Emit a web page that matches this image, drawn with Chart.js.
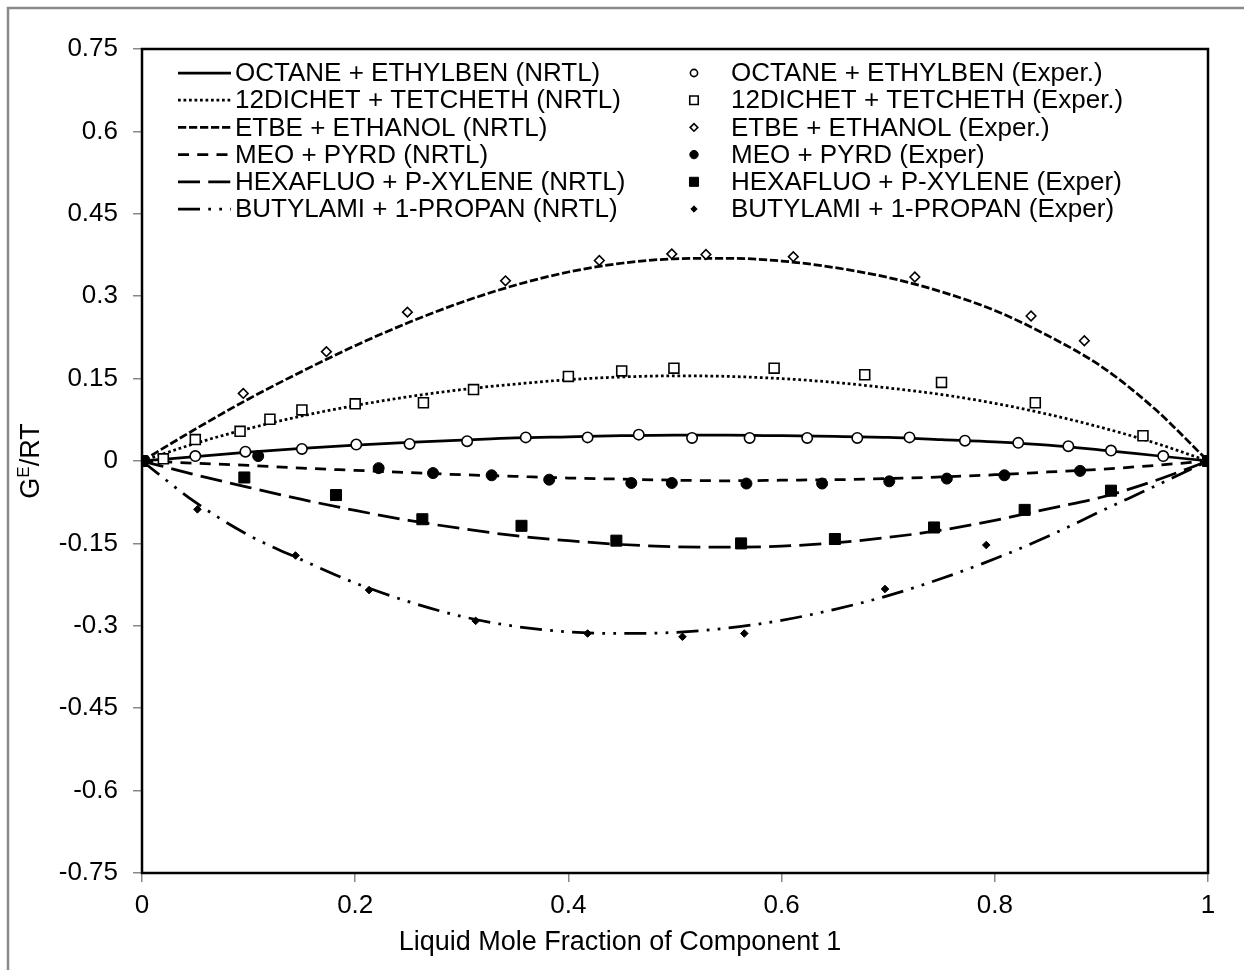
<!DOCTYPE html>
<html lang="en">
<head>
<meta charset="UTF-8">
<title>Excess Gibbs Energy - NRTL vs Experiment</title>
<script src="https://cdn.jsdelivr.net/npm/chart.js"></script>
<style>
    body { margin: 0; background: #fff; }
    canvas { display: block; }
</style>
</head>
<body>
<canvas id="geChart" width="1244" height="970"></canvas>

<script>
    // composition grid for the NRTL curves
    const xModel = [0, 0.05, 0.1, 0.15, 0.2, 0.25, 0.3, 0.35, 0.4, 0.45, 0.5,
                    0.55, 0.6, 0.65, 0.7, 0.75, 0.8, 0.85, 0.9, 0.95, 1];

    // NRTL GE/RT along xModel
    const octaneNrtl = [0, 0.008, 0.016, 0.023, 0.029, 0.034, 0.038, 0.042, 0.044, 0.046, 0.047,
                        0.047, 0.046, 0.045, 0.043, 0.039, 0.035, 0.029, 0.020, 0.010, 0];
    const dichetNrtl = [0, 0.032, 0.059, 0.082, 0.101, 0.117, 0.130, 0.140, 0.148, 0.153, 0.155,
                        0.154, 0.150, 0.143, 0.133, 0.121, 0.105, 0.085, 0.061, 0.033, 0];
    const etbeNrtl = [0, 0.058, 0.113, 0.163, 0.210, 0.252, 0.289, 0.320, 0.344, 0.360, 0.368,
                      0.369, 0.364, 0.352, 0.334, 0.308, 0.274, 0.228, 0.172, 0.095, 0];
    const meoNrtl = [0, -0.004, -0.008, -0.013, -0.017, -0.021, -0.025, -0.028, -0.031, -0.033, -0.035,
                     -0.036, -0.035, -0.034, -0.032, -0.029, -0.025, -0.020, -0.015, -0.008, 0];
    const hexaNrtl = [0, -0.025, -0.048, -0.070, -0.090, -0.108, -0.123, -0.136, -0.145, -0.152, -0.156,
                      -0.157, -0.155, -0.149, -0.139, -0.126, -0.108, -0.087, -0.066, -0.036, 0];
    const butylNrtl = [0, -0.075, -0.135, -0.180, -0.222, -0.256, -0.283, -0.301, -0.311, -0.314, -0.312,
                       -0.304, -0.290, -0.270, -0.245, -0.214, -0.178, -0.137, -0.091, -0.046, 0];

    // experimental points
    const octaneX = [0.050, 0.097, 0.150, 0.201, 0.251, 0.305, 0.360, 0.418, 0.466, 0.516,
                     0.570, 0.624, 0.671, 0.720, 0.772, 0.822, 0.869, 0.909, 0.958];
    const octaneY = [0.009, 0.017, 0.022, 0.030, 0.031, 0.036, 0.043, 0.043, 0.048, 0.042,
                     0.042, 0.042, 0.042, 0.043, 0.037, 0.033, 0.027, 0.019, 0.009];
    const dichetX = [0.020, 0.050, 0.092, 0.120, 0.150, 0.200, 0.264, 0.311, 0.400, 0.450,
                     0.499, 0.593, 0.678, 0.750, 0.838, 0.939];
    const dichetY = [0.004, 0.039, 0.054, 0.076, 0.093, 0.104, 0.106, 0.130, 0.154, 0.164,
                     0.169, 0.169, 0.157, 0.143, 0.106, 0.046];
    const etbeX = [0.095, 0.173, 0.249, 0.341, 0.429, 0.497, 0.529, 0.611, 0.725, 0.834, 0.884];
    const etbeY = [0.123, 0.199, 0.271, 0.328, 0.365, 0.377, 0.376, 0.372, 0.335, 0.264, 0.219];
    const meoX = [0.109, 0.222, 0.273, 0.328, 0.382, 0.459, 0.497, 0.567, 0.638, 0.701, 0.755, 0.809, 0.880];
    const meoY = [0.009, -0.013, -0.022, -0.026, -0.034, -0.040, -0.040, -0.041, -0.041, -0.037, -0.032, -0.026, -0.018];
    const hexaX = [0, 0.096, 0.182, 0.263, 0.356, 0.445, 0.562, 0.650, 0.743, 0.828, 0.909, 1];
    const hexaY = [0, -0.030, -0.062, -0.106, -0.118, -0.145, -0.150, -0.142, -0.121, -0.089, -0.054, 0];
    const butylX = [0.052, 0.144, 0.213, 0.313, 0.418, 0.507, 0.565, 0.697, 0.792];
    const butylY = [-0.088, -0.172, -0.235, -0.291, -0.314, -0.320, -0.314, -0.233, -0.153];

    const xTicks = [0, 0.2, 0.4, 0.6, 0.8, 1];
    const yTicks = [-0.75, -0.6, -0.45, -0.3, -0.15, 0, 0.15, 0.3, 0.45, 0.6, 0.75];

    const FONT = '"Liberation Sans", Arial, sans-serif';
    const LW = 2.75;

    const pts = (xs, ys) => xs.map((x, i) => ({ x: x, y: ys[i] }));

    function curve(label, ys, dash) {
        return {
            label: label,
            data: pts(xModel, ys),
            showLine: true,
            borderColor: '#000',
            borderWidth: LW,
            borderDash: dash,
            pointRadius: 0,
            cubicInterpolationMode: 'monotone',
            order: 1,
            isModel: true
        };
    }

    function markers(label, xs, ys, style, r, filled, legendR) {
        return {
            label: label,
            data: pts(xs, ys),
            showLine: false,
            pointStyle: style,
            pointRadius: r,
            pointBackgroundColor: filled ? '#000' : '#fff',
            pointBorderColor: '#000',
            pointBorderWidth: filled ? 1 : 1.6,
            order: 0,
            isModel: false,
            legendR: legendR
        };
    }

    const datasets = [
        curve('OCTANE + ETHYLBEN (NRTL)', octaneNrtl, []),
        curve('12DICHET + TETCHETH (NRTL)', dichetNrtl, [LW, LW]),
        curve('ETBE + ETHANOL (NRTL)', etbeNrtl, [3 * LW, LW]),
        curve('MEO + PYRD (NRTL)', meoNrtl, [4 * LW, 3 * LW]),
        curve('HEXAFLUO + P-XYLENE (NRTL)', hexaNrtl, [8 * LW, 3 * LW]),
        curve('BUTYLAMI + 1-PROPAN (NRTL)', butylNrtl, [8 * LW, 3 * LW, LW, 3 * LW, LW, 3 * LW]),
        markers('OCTANE + ETHYLBEN (Exper.)', octaneX, octaneY, 'circle', 5.2, false, 3.6),
        markers('12DICHET + TETCHETH (Exper.)', dichetX, dichetY, 'rect', 7, false, 6),
        markers('ETBE + ETHANOL (Exper.)', etbeX, etbeY, 'rectRot', 4.8, false, 3.8),
        markers('MEO + PYRD (Exper)', meoX, meoY, 'circle', 5.5, true, 4.2),
        markers('HEXAFLUO + P-XYLENE (Exper)', hexaX, hexaY, 'rect', 7.8, true, 6.4),
        markers('BUTYLAMI + 1-PROPAN (Exper)', butylX, butylY, 'rectRot', 3.8, true, 3.2)
    ];

    function drawMarker(ctx, ds, x, y) {
        const r = ds.legendR;
        ctx.beginPath();
        if (ds.pointStyle === 'circle') {
            ctx.arc(x, y, r, 0, Math.PI * 2);
        } else if (ds.pointStyle === 'rect') {
            const s = r * Math.SQRT1_2;
            ctx.rect(x - s, y - s, 2 * s, 2 * s);
        } else {
            ctx.moveTo(x - r, y);
            ctx.lineTo(x, y - r);
            ctx.lineTo(x + r, y);
            ctx.lineTo(x, y + r);
            ctx.closePath();
        }
        ctx.fillStyle = ds.pointBackgroundColor;
        ctx.fill();
        ctx.lineWidth = ds.pointBorderWidth;
        ctx.strokeStyle = '#000';
        ctx.stroke();
    }

    // page frame, plot box, two-column legend and axis titles
    const decorations = {
        id: 'decorations',
        beforeDraw(chart) {
            const ctx = chart.ctx;
            ctx.save();
            ctx.fillStyle = '#fff';
            ctx.fillRect(0, 0, chart.width, chart.height);
            ctx.strokeStyle = '#8a8a8a';
            ctx.lineWidth = 2.5;
            ctx.beginPath();
            ctx.moveTo(8, chart.height);
            ctx.lineTo(8, 8);
            ctx.lineTo(chart.width, 8);
            ctx.stroke();
            ctx.restore();
        },
        beforeDatasetsDraw(chart) {
            const { ctx, chartArea: a } = chart;
            ctx.save();
            ctx.strokeStyle = '#000';
            ctx.lineWidth = 2.5;
            ctx.strokeRect(a.left, a.top, a.right - a.left, a.bottom - a.top);
            ctx.restore();
        },
        afterDatasetsDraw(chart) {
            const ctx = chart.ctx;
            const sets = chart.data.datasets;
            const models = sets.filter(d => d.isModel);
            const exper = sets.filter(d => !d.isModel);
            ctx.save();
            ctx.font = '26px ' + FONT;
            ctx.textBaseline = 'middle';
            ctx.fillStyle = '#000';
            models.forEach((ds, i) => {
                const y = 73 + i * 27.2;
                ctx.beginPath();
                ctx.setLineDash(ds.borderDash);
                ctx.lineWidth = ds.borderWidth;
                ctx.strokeStyle = '#000';
                ctx.moveTo(178, y);
                ctx.lineTo(231, y);
                ctx.stroke();
                ctx.setLineDash([]);
                ctx.fillText(ds.label, 235, y + 1);
            });
            exper.forEach((ds, i) => {
                const y = 73 + i * 27.2;
                drawMarker(ctx, ds, 694, y);
                ctx.fillStyle = '#000';
                ctx.fillText(ds.label, 731, y + 1);
            });

            // x axis title
            ctx.textAlign = 'center';
            ctx.font = '27px ' + FONT;
            ctx.fillText('Liquid Mole Fraction of Component 1', 620, 943);

            // y axis title with superscript E
            ctx.translate(31, 461);
            ctx.rotate(-Math.PI / 2);
            const big = '27px ' + FONT, small = '17px ' + FONT;
            ctx.font = big;
            const wG = ctx.measureText('G').width;
            const wRest = ctx.measureText('/RT').width;
            ctx.font = small;
            const wE = ctx.measureText('E').width;
            const x0 = -(wG + wE + wRest) / 2;
            ctx.textAlign = 'left';
            ctx.font = big;
            ctx.fillText('G', x0, 1);
            ctx.font = small;
            ctx.fillText('E', x0 + wG, -7);
            ctx.font = big;
            ctx.fillText('/RT', x0 + wG + wE, 1);
            ctx.restore();
        }
    };

    const fmt = v => String(Math.round(v * 100) / 100);

    const ctx = document.getElementById('geChart').getContext('2d');
    const geChart = new Chart(ctx, {
        type: 'scatter',
        data: { datasets: datasets },
        options: {
            responsive: false,
            animation: false,
            events: [],
            layout: { padding: { top: 49, right: 36, left: 0, bottom: 0 } },
            plugins: {
                legend: { display: false },
                tooltip: { enabled: false }
            },
            scales: {
                x: {
                    type: 'linear',
                    min: 0,
                    max: 1,
                    afterBuildTicks: s => { s.ticks = xTicks.map(v => ({ value: v })); },
                    afterFit: s => { s.height = 97; },
                    border: { display: false },
                    grid: { drawOnChartArea: false, drawTicks: true, tickLength: 9, color: '#888', lineWidth: 1.5 },
                    ticks: { color: '#000', font: { family: FONT, size: 26 }, padding: 8, callback: fmt, maxRotation: 0 }
                },
                y: {
                    type: 'linear',
                    min: -0.75,
                    max: 0.75,
                    afterBuildTicks: s => { s.ticks = yTicks.map(v => ({ value: v })); },
                    afterFit: s => { s.width = 142; },
                    border: { display: false },
                    grid: { drawOnChartArea: false, drawTicks: true, tickLength: 9, color: '#888', lineWidth: 1.5 },
                    ticks: { color: '#000', font: { family: FONT, size: 26 }, padding: 15, callback: fmt }
                }
            }
        },
        plugins: [decorations]
    });
</script>
</body>
</html>
